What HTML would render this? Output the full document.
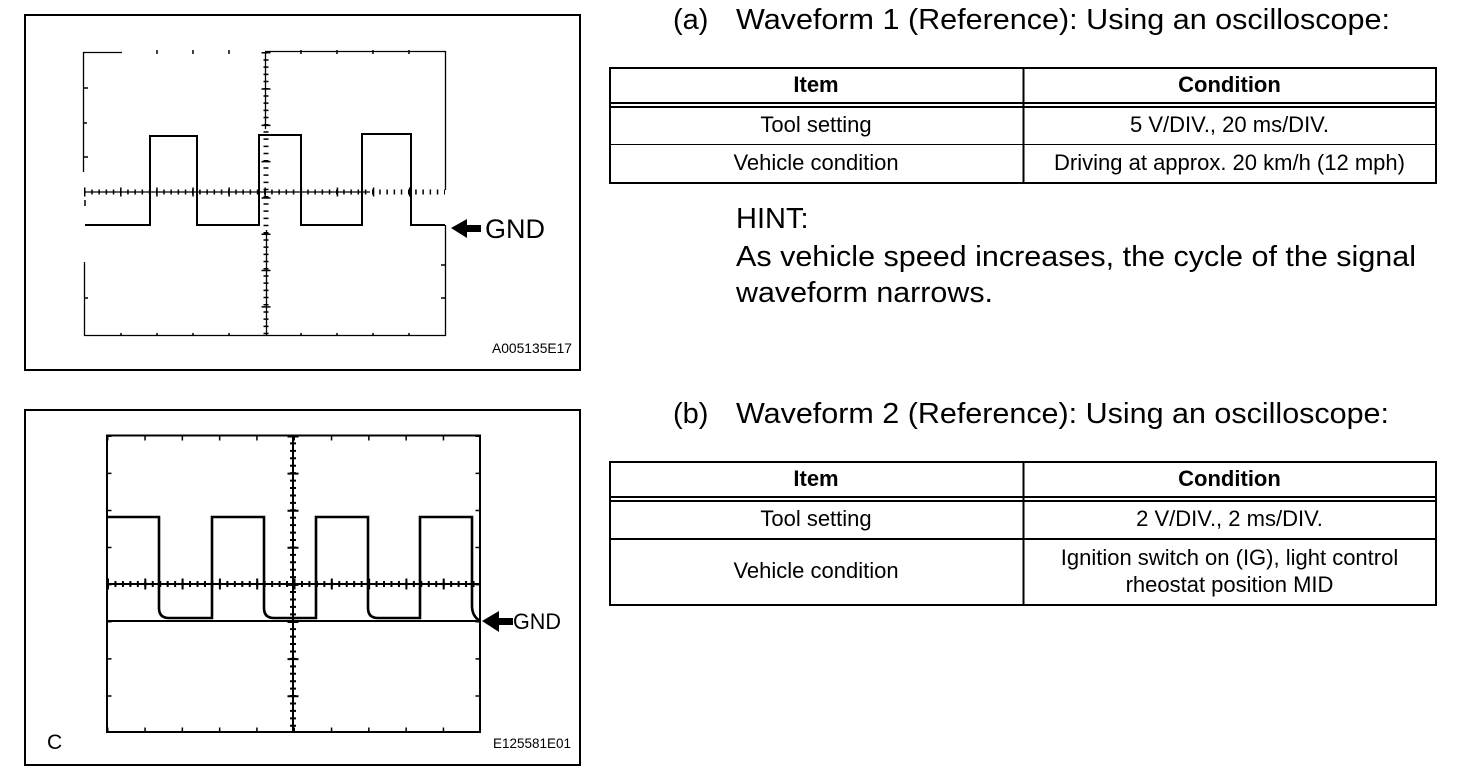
<!DOCTYPE html>
<html><head><meta charset="utf-8"><style>
html,body{margin:0;padding:0;background:#fff}
svg{display:block}
text{font-family:"Liberation Sans",sans-serif;fill:#000}
</style></head><body>
<svg width="1472" height="780" viewBox="0 0 1472 780" xmlns="http://www.w3.org/2000/svg">
<rect width="1472" height="780" fill="#fff"/>
<g fill="none" stroke="#000">
<!-- frames -->
<rect x="25" y="15" width="555" height="355" stroke-width="2"/>
<rect x="25" y="410" width="555" height="355" stroke-width="2"/>

<!-- scope 1 -->
<g stroke-width="1.300">
<path d="M83 52.500H122M265 51.500H445.500V190M83.500 52V172M84.500 262V335.500H445.500V225"/>
<line x1="84" y1="192" x2="370" y2="192"/>
<line x1="265.500" y1="52" x2="265.500" y2="129"/>
<line x1="266.500" y1="230" x2="266.500" y2="335"/>
</g>
<path stroke-width="1.500" d="M157 50V54M193 50V54M229 50V54M301 50V54M337 50V54M373 50V54M409 50V54M84 88H88M84 123H87M84 157H88M85 200V206M85 298H88M441 265H445M441 298H445M121 333V335M157 333V335M193 333V335M229 333V335M301 333V335M337 333V335M373 333V335M409 333V335"/>
<g>
<line x1="84" y1="192" x2="445" y2="192" stroke-width="5" stroke-dasharray="1.500 5.700"/>
<line x1="84" y1="192" x2="445" y2="192" stroke-width="9" stroke-dasharray="1.500 34.600"/>
<line x1="266" y1="52" x2="266" y2="335" stroke-width="5" stroke-dasharray="1.500 5.700"/>
<line x1="266" y1="52" x2="266" y2="335" stroke-width="9" stroke-dasharray="1.500 34.800"/>
</g>
<path stroke-width="2" d="M85 225H150V136H197V225H259V135H301V225H362V134H411V225H445"/>

<!-- scope 2 -->
<g stroke-width="2">
<path d="M107 435.500H480V732H107Z" />
<line x1="107" y1="584" x2="480" y2="584"/>
<line x1="107" y1="621" x2="480" y2="621"/>
<line x1="293" y1="435" x2="293" y2="732"/>
</g>
<line x1="107" y1="584" x2="480" y2="584" stroke-width="6" stroke-dasharray="2 5.460"/>
<line x1="107" y1="584" x2="480" y2="584" stroke-width="11" stroke-dasharray="2 35.300"/>
<line x1="293" y1="435" x2="293" y2="732" stroke-width="6" stroke-dasharray="2 5.430"/>
<line x1="293" y1="435.500" x2="293" y2="732" stroke-width="11" stroke-dasharray="2 35.100"/>
<line x1="107" y1="438" x2="480" y2="438" stroke-width="5" stroke-dasharray="1.500 35.800"/>
<line x1="107" y1="730" x2="480" y2="730" stroke-width="5" stroke-dasharray="1.500 35.800"/>
<line x1="109" y1="435.500" x2="109" y2="732" stroke-width="5" stroke-dasharray="1.500 35.600"/>
<line x1="478" y1="435.500" x2="478" y2="732" stroke-width="5" stroke-dasharray="1.500 35.600"/>
<path stroke-width="2.600" d="M107 517H159V608Q159 618 169 618H212V517H264V608Q264 618 274 618H316V517H368V608Q368 618 378 618H420V517H472V606Q472 616 480 621"/>

<!-- tables -->
<g stroke-width="2">
<rect x="610" y="68" width="826" height="115"/>
<rect x="610" y="462" width="826" height="143"/>
<line x1="1023.500" y1="68" x2="1023.500" y2="183"/>
<line x1="1023.500" y1="462" x2="1023.500" y2="605"/>
<line x1="610" y1="103" x2="1436" y2="103"/>
<line x1="610" y1="107" x2="1436" y2="107"/>
<line x1="610" y1="497" x2="1436" y2="497"/>
<line x1="610" y1="501" x2="1436" y2="501"/>
<line x1="610" y1="539" x2="1436" y2="539"/>
</g>
<line x1="610" y1="144.500" x2="1436" y2="144.500" stroke-width="1"/>
</g>

<!-- arrows -->
<path d="M451 228L467 219V225H481V232H467V238Z" fill="#000"/>
<path d="M482 621L499 611V618H513V625H499V632Z" fill="#000"/>

<!-- scope labels -->
<text x="485" y="238" font-size="27" textLength="60" lengthAdjust="spacingAndGlyphs">GND</text>
<text x="513" y="629" font-size="22" textLength="48" lengthAdjust="spacingAndGlyphs">GND</text>
<text x="492" y="353" font-size="14" textLength="80" lengthAdjust="spacingAndGlyphs">A005135E17</text>
<text x="493" y="748" font-size="14" textLength="78" lengthAdjust="spacingAndGlyphs">E125581E01</text>
<text x="47" y="749" font-size="21">C</text>

<!-- right text -->
<text x="673" y="29" font-size="29">(a)</text>
<text x="736" y="29" font-size="29" textLength="654" lengthAdjust="spacingAndGlyphs">Waveform 1 (Reference): Using an oscilloscope:</text>
<text x="673" y="423" font-size="29">(b)</text>
<text x="736" y="423" font-size="29" textLength="653" lengthAdjust="spacingAndGlyphs">Waveform 2 (Reference): Using an oscilloscope:</text>
<text x="736" y="228" font-size="29">HINT:</text>
<text x="736" y="266" font-size="29" textLength="680" lengthAdjust="spacingAndGlyphs">As vehicle speed increases, the cycle of the signal</text>
<text x="736" y="302" font-size="29" textLength="257" lengthAdjust="spacingAndGlyphs">waveform narrows.</text>

<!-- table text -->
<g font-size="22" text-anchor="middle">
<text x="816" y="92" font-weight="700">Item</text>
<text x="1229.500" y="92" font-weight="700">Condition</text>
<text x="816" y="132">Tool setting</text>
<text x="1229.500" y="132">5 V/DIV., 20 ms/DIV.</text>
<text x="816" y="170">Vehicle condition</text>
<text x="1229.500" y="170">Driving at approx. 20 km/h (12 mph)</text>
<text x="816" y="486" font-weight="700">Item</text>
<text x="1229.500" y="486" font-weight="700">Condition</text>
<text x="816" y="526">Tool setting</text>
<text x="1229.500" y="526">2 V/DIV., 2 ms/DIV.</text>
<text x="816" y="578">Vehicle condition</text>
<text x="1229.500" y="565">Ignition switch on (IG), light control</text>
<text x="1229.500" y="592">rheostat position MID</text>
</g>
</svg>
</body></html>
